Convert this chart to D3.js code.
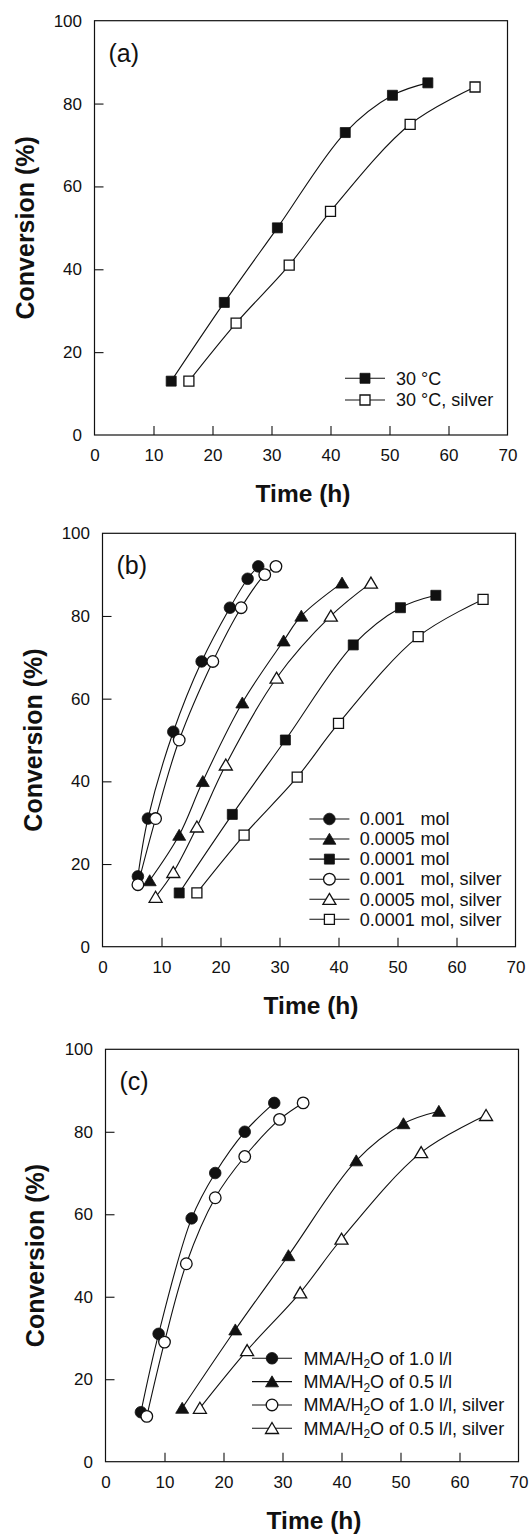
<!DOCTYPE html>
<html>
<head>
<meta charset="utf-8">
<script src="https://cdn.jsdelivr.net/npm/d3@7"></script>
<style>
  body { margin: 0; background: #fff; }
  svg { display: block; }
  text { font-family: "Liberation Sans", Arial, sans-serif; fill: #111; }
</style>
</head>
<body>
<svg id="chart" width="530" height="1535"></svg>
<script>
// ---- Axis ticks ----
const xTickValues = [0, 10, 20, 30, 40, 50, 60, 70];
const yTickValues = [0, 20, 40, 60, 80, 100];

// ---- Conversion vs time data ----
// 0.0001 mol initiator, MMA/H2O 0.5 l/l, 30 °C
const timeBase = [13, 22, 31, 42.5, 50.5, 56.5];
const convBase = [13, 32, 50, 73, 82, 85];
const timeBaseSilver = [16, 24, 33, 40, 53.5, 64.5];
const convBaseSilver = [13, 27, 41, 54, 75, 84];

// 0.001 mol initiator
const time001 = [6, 7.7, 12, 16.8, 21.6, 24.6, 26.4];
const conv001 = [17, 31, 52, 69, 82, 89, 92];
const time001Silver = [6, 9, 13, 18.7, 23.5, 27.5, 29.4];
const conv001Silver = [15, 31, 50, 69, 82, 90, 92];

// 0.0005 mol initiator
const time0005 = [8, 13, 17, 23.7, 30.7, 33.7, 40.6];
const conv0005 = [16, 27, 40, 59, 74, 80, 88];
const time0005Silver = [9, 12, 16, 20.9, 29.5, 38.7, 45.5];
const conv0005Silver = [12, 18, 29, 44, 65, 80, 88];

// MMA/H2O of 1.0 l/l
const timeRatio10 = [6, 9, 14.6, 18.6, 23.6, 28.6];
const convRatio10 = [12, 31, 59, 70, 80, 87];
const timeRatio10Silver = [7, 10, 13.7, 18.6, 23.6, 29.5, 33.5];
const convRatio10Silver = [11, 29, 48, 64, 74, 83, 87];

const zip = (t, c) => t.map((d, i) => ({ t: d, c: c[i] }));

// ---- Panels ----
const panels = [
  {
    tag: "(a)",
    box: { left: 94.5, right: 507.5, top: 20.7, bottom: 435 },
    yTitleX: 34,
    legend: { x: 365, y0: 378.3, dy: 21.7, textX: 396 },
    series: [
      { data: zip(timeBase, convBase), shape: "square", filled: true, label: ["30 °C"] },
      { data: zip(timeBaseSilver, convBaseSilver), shape: "square", filled: false, label: ["30 °C, silver"] }
    ]
  },
  {
    tag: "(b)",
    box: { left: 102.5, right: 515.5, top: 533.3, bottom: 946.7 },
    yTitleX: 42,
    legend: { x: 329.4, y0: 819, dy: 20.06, textX: 359.8, unitX: 420.6 },
    series: [
      { data: zip(time001, conv001), shape: "circle", filled: true, label: ["0.001", "mol"] },
      { data: zip(time0005, conv0005), shape: "triangle", filled: true, label: ["0.0005", "mol"] },
      { data: zip(timeBase, convBase), shape: "square", filled: true, label: ["0.0001", "mol"] },
      { data: zip(time001Silver, conv001Silver), shape: "circle", filled: false, label: ["0.001", "mol, silver"] },
      { data: zip(time0005Silver, conv0005Silver), shape: "triangle", filled: false, label: ["0.0005", "mol, silver"] },
      { data: zip(timeBaseSilver, convBaseSilver), shape: "square", filled: false, label: ["0.0001", "mol, silver"] }
    ]
  },
  {
    tag: "(c)",
    box: { left: 105.5, right: 518.5, top: 1049.3, bottom: 1461.7 },
    yTitleX: 44,
    legend: { x: 272, y0: 1358.3, dy: 23.33, textX: 303.4 },
    series: [
      { data: zip(timeRatio10, convRatio10), shape: "circle", filled: true, label: ["MMA/H", "2", "O of 1.0 l/l"] },
      { data: zip(timeBase, convBase), shape: "triangle", filled: true, label: ["MMA/H", "2", "O of 0.5 l/l"] },
      { data: zip(timeRatio10Silver, convRatio10Silver), shape: "circle", filled: false, label: ["MMA/H", "2", "O of 1.0 l/l, silver"] },
      { data: zip(timeBaseSilver, convBaseSilver), shape: "triangle", filled: false, label: ["MMA/H", "2", "O of 0.5 l/l, silver"] }
    ]
  }
];

const svg = d3.select("#chart");
const ink = "#111";

// Marker shapes, centred on their bounding box
function markerPath(shape) {
  if (shape === "square") return "M-5,-5H5V5H-5Z";
  if (shape === "triangle") return "M0,-5.8L6.5,5.2L-6.5,5.2Z";
  return d3.arc()({ innerRadius: 0, outerRadius: 5.8, startAngle: 0, endAngle: 2 * Math.PI });
}

function drawMarker(g, shape, filled, x, y) {
  g.append("path")
    .attr("d", markerPath(shape))
    .attr("transform", `translate(${x},${y})`)
    .attr("fill", filled ? ink : "#fff")
    .attr("stroke", ink)
    .attr("stroke-width", filled ? 0.8 : 1.3);
}

panels.forEach(p => {
  const b = p.box;
  const x = d3.scaleLinear().domain([0, 70]).range([b.left, b.right]);
  const y = d3.scaleLinear().domain([0, 100]).range([b.bottom, b.top]);
  const g = svg.append("g");

  // Inward ticks on bottom and left axes
  const xAxis = d3.axisBottom(x).tickValues(xTickValues).tickSize(-9).tickPadding(14).tickFormat(d3.format("d"));
  const yAxis = d3.axisLeft(y).tickValues(yTickValues).tickSize(-9).tickPadding(12.5).tickFormat(d3.format("d"));

  const gx = g.append("g").attr("transform", `translate(0,${b.bottom})`).call(xAxis);
  const gy = g.append("g").attr("transform", `translate(${b.left},0)`).call(yAxis);
  [gx, gy].forEach(a => {
    a.select(".domain").remove();
    a.selectAll(".tick line").attr("stroke", ink).attr("stroke-width", 1.1);
    a.selectAll(".tick text")
      .style("font-family", '"Liberation Sans", Arial, sans-serif')
      .style("font-size", "17px")
      .attr("fill", ink);
  });
  // no tick marks on the frame edges
  gx.selectAll(".tick").filter(d => d === 0 || d === 70).select("line").remove();
  gy.selectAll(".tick").filter(d => d === 0 || d === 100).select("line").remove();
  gx.selectAll(".tick text").attr("dy", "0.71em").attr("y", 14);

  // Frame
  g.append("rect")
    .attr("x", b.left).attr("y", b.top)
    .attr("width", b.right - b.left).attr("height", b.bottom - b.top)
    .attr("fill", "none").attr("stroke", ink).attr("stroke-width", 1.2);

  // Axis titles
  g.append("text")
    .attr("transform", `translate(${p.yTitleX},${(b.top + b.bottom) / 2}) rotate(-90)`)
    .attr("text-anchor", "middle")
    .style("font-size", "25px").style("font-weight", "bold")
    .text("Conversion (%)");
  g.append("text")
    .attr("x", (b.left + b.right) / 2 + 2).attr("y", b.bottom + 67)
    .attr("text-anchor", "middle")
    .style("font-size", "24.5px").style("font-weight", "bold")
    .text("Time (h)");

  // Panel tag
  g.append("text")
    .attr("x", b.left + 14).attr("y", b.top + 41)
    .style("font-size", "25px")
    .text(p.tag);

  // Curves
  const line = d3.line().x(d => x(d.t)).y(d => y(d.c)).curve(d3.curveCatmullRom.alpha(0.5));
  p.series.forEach(s => {
    g.append("path").attr("d", line(s.data))
      .attr("fill", "none").attr("stroke", ink).attr("stroke-width", 1.1);
  });
  p.series.forEach(s => {
    s.data.forEach(d => drawMarker(g, s.shape, s.filled, x(d.t), y(d.c)));
  });

  // Legend
  const L = p.legend;
  p.series.forEach((s, i) => {
    const ly = L.y0 + i * L.dy;
    g.append("line")
      .attr("x1", L.x - 20).attr("x2", L.x + 20).attr("y1", ly).attr("y2", ly)
      .attr("stroke", ink).attr("stroke-width", 1.1);
    drawMarker(g, s.shape, s.filled, L.x, ly);
    const t = g.append("text").attr("x", L.textX).attr("y", ly).attr("dy", "0.35em").style("font-size", "18px");
    if (s.label.length === 2) {
      t.append("tspan").text(s.label[0]);
      t.append("tspan").attr("x", L.unitX).text(s.label[1]);
    } else if (s.label.length === 3) {
      t.append("tspan").text(s.label[0]);
      t.append("tspan").attr("dy", "0.3em").style("font-size", "12px").text(s.label[1]);
      t.append("tspan").attr("dy", "-0.2em").text(s.label[2]);
    } else {
      t.text(s.label[0]);
    }
  });
});
</script>
</body>
</html>
